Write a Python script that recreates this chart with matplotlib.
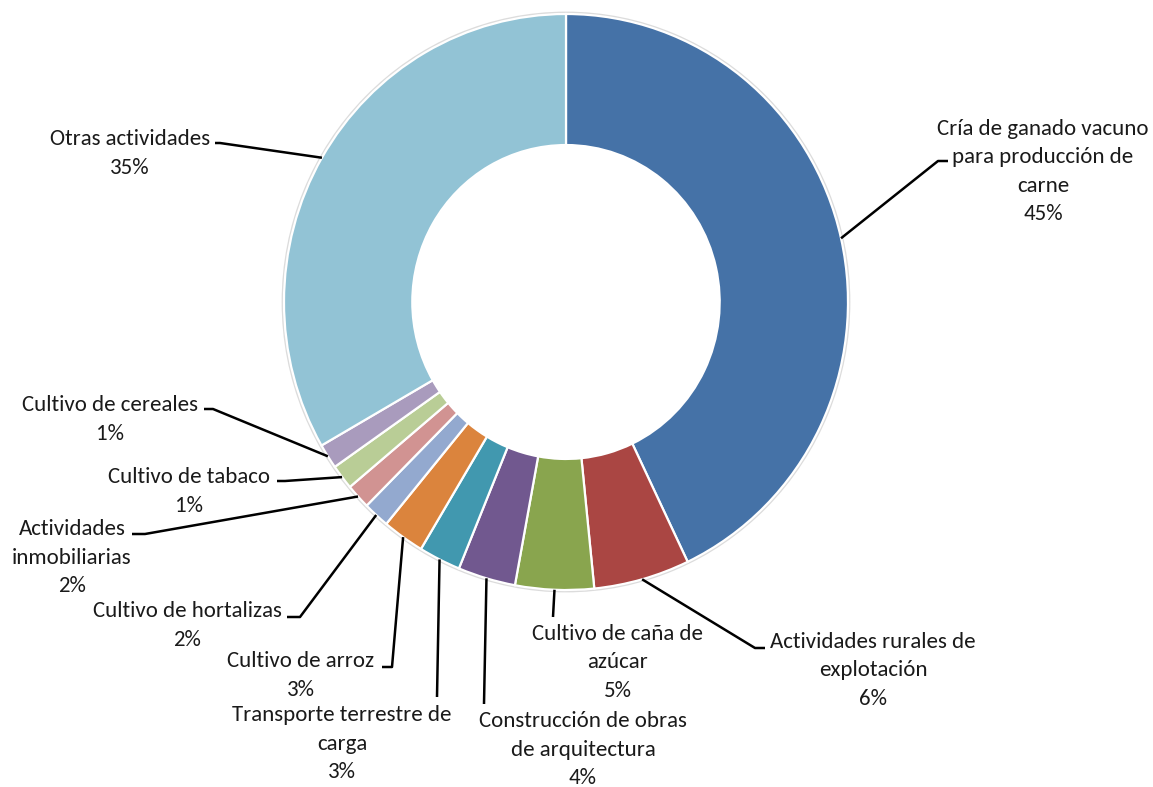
import matplotlib
matplotlib.use("Agg")
import matplotlib.pyplot as plt
from matplotlib import font_manager
import numpy as np

# ---------------- data ----------------
categories = [
    "Cría de ganado vacuno\npara producción de\ncarne",
    "Actividades rurales de\nexplotación",
    "Cultivo de caña de\nazúcar",
    "Construcción de obras\nde arquitectura",
    "Transporte terrestre de\ncarga",
    "Cultivo de arroz",
    "Cultivo de hortalizas",
    "Actividades\ninmobiliarias",
    "Cultivo de tabaco",
    "Cultivo de cereales",
    "Otras actividades",
]
shares = [42.9, 5.5, 4.5, 3.3, 2.4, 2.4, 1.5, 1.4, 1.4, 1.4, 33.3]
pct_labels = [45, 6, 5, 4, 3, 3, 2, 2, 1, 1, 35]
colors = ["#4572A7", "#AA4643", "#89A54E", "#71588F", "#4198AF", "#DB843D",
          "#93A9CF", "#D19392", "#B9CD96", "#A99BBD", "#92C3D5"]

# ---------------- layout (pixels) ----------------
label_pos = [(1043, 170), (873, 669), (618, 661), (583, 748), (342, 742),
             (301, 674), (187, 624), (72, 556), (189, 490), (110, 418),
             (130, 152)]
leader_pts = [
    [(938, 161), (948, 161)],
    [(755, 648), (765, 648)],
    [(553, 617)],
    [(484, 704)],
    [(437, 697)],
    [(392, 667), (382, 667)],
    [(300, 617), (287, 617)],
    [(145, 534), (132, 534)],
    [(285, 481), (277, 481)],
    [(213, 409), (204, 409)],
    [(220, 143), (215, 143)],
]
line_step = 28.5      # px between label lines
baseline_off = 7.5    # px from visual line centre to baseline

avail = {f.name for f in font_manager.fontManager.ttflist}
family = "Carlito" if "Carlito" in avail else "Lato"
fsize = 16.5 if family == "Carlito" else 14.6

W, H = 1153, 787
fig = plt.figure(figsize=(W / 100, H / 100), dpi=100)

px_left, px_right, px_top, px_bottom = 284, 848, 14, 590
pad = 10
ax = fig.add_axes([(px_left - pad) / W, 1 - (px_bottom + pad) / H,
                   (px_right - px_left + 2 * pad) / W,
                   (px_bottom - px_top + 2 * pad) / H])
rx = (px_right - px_left) / 2
ry = (px_bottom - px_top) / 2

# soft outer shadow ring
shadow, _ = ax.pie([1], colors=["none"], radius=1.004,
                   wedgeprops=dict(width=0.01, edgecolor="#dcdcdc", linewidth=1.8))
wedges, _ = ax.pie(shares, colors=colors, startangle=90, counterclock=False,
                   radius=1.0,
                   wedgeprops=dict(width=0.455, edgecolor="white", linewidth=1.6))
ax.set_xlim(-1 - pad / rx, 1 + pad / rx)
ax.set_ylim(-1 - pad / ry, 1 + pad / ry)
ax.set_aspect("auto")
ax.axis("off")

ov = fig.add_axes([0, 0, 1, 1])
ov.set_xlim(0, W)
ov.set_ylim(H, 0)
ov.axis("off")
ov.patch.set_alpha(0)

fig.canvas.draw()
for i, w in enumerate(wedges):
    th = np.deg2rad((w.theta1 + w.theta2) / 2)
    disp = ax.transData.transform((np.cos(th), np.sin(th)))
    x0, y0 = ov.transData.inverted().transform(disp)
    xs = [x0] + [p[0] for p in leader_pts[i]]
    ys = [y0] + [p[1] for p in leader_pts[i]]
    ov.plot(xs, ys, color="black", lw=1.8, solid_capstyle="butt")
    lx, ly = label_pos[i]
    lines = categories[i].split("\n") + [f"{pct_labels[i]}%"]
    n = len(lines)
    for k, s in enumerate(lines):
        yk = ly + (k - (n - 1) / 2) * line_step + baseline_off
        ov.text(lx, yk, s, ha="center", va="baseline", fontsize=fsize,
                family=family, color="#1a1a1a")

fig.savefig("out.png", dpi=100)
